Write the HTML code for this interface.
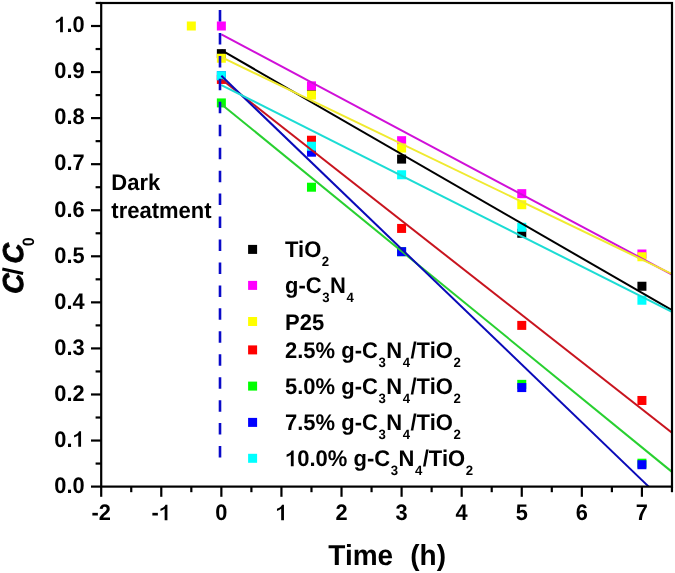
<!DOCTYPE html>
<html><head><meta charset="utf-8"><style>
html,body{margin:0;padding:0;background:#fff;}
body{width:675px;height:573px;overflow:hidden;font-family:"Liberation Sans",sans-serif;}
svg{display:block;filter:blur(0.45px);}
</style></head><body>
<svg width="675" height="573" viewBox="0 0 675 573">
<defs><clipPath id="pc"><rect x="101.2" y="3" width="570.8" height="483.6"/></clipPath></defs>
<rect x="216.86" y="49.14" width="9.0" height="9.0" fill="#000000"/>
<rect x="306.98" y="85.98" width="9.0" height="9.0" fill="#000000"/>
<rect x="397.10" y="154.61" width="9.0" height="9.0" fill="#000000"/>
<rect x="517.26" y="228.77" width="9.0" height="9.0" fill="#000000"/>
<rect x="637.42" y="281.74" width="9.0" height="9.0" fill="#000000"/>
<rect x="216.86" y="21.50" width="9.0" height="9.0" fill="#ff00ff"/>
<rect x="306.98" y="81.38" width="9.0" height="9.0" fill="#ff00ff"/>
<rect x="397.10" y="136.19" width="9.0" height="9.0" fill="#ff00ff"/>
<rect x="517.26" y="189.16" width="9.0" height="9.0" fill="#ff00ff"/>
<rect x="637.42" y="249.50" width="9.0" height="9.0" fill="#ff00ff"/>
<rect x="186.82" y="21.50" width="9.0" height="9.0" fill="#ffff00"/>
<rect x="216.86" y="53.74" width="9.0" height="9.0" fill="#ffff00"/>
<rect x="306.98" y="90.59" width="9.0" height="9.0" fill="#ffff00"/>
<rect x="397.10" y="143.56" width="9.0" height="9.0" fill="#ffff00"/>
<rect x="517.26" y="200.21" width="9.0" height="9.0" fill="#ffff00"/>
<rect x="637.42" y="252.26" width="9.0" height="9.0" fill="#ffff00"/>
<rect x="216.86" y="74.93" width="9.0" height="9.0" fill="#ff0000"/>
<rect x="306.98" y="135.73" width="9.0" height="9.0" fill="#ff0000"/>
<rect x="397.10" y="223.93" width="9.0" height="9.0" fill="#ff0000"/>
<rect x="517.26" y="320.89" width="9.0" height="9.0" fill="#ff0000"/>
<rect x="637.42" y="395.97" width="9.0" height="9.0" fill="#ff0000"/>
<rect x="216.86" y="98.42" width="9.0" height="9.0" fill="#00ff00"/>
<rect x="306.98" y="182.71" width="9.0" height="9.0" fill="#00ff00"/>
<rect x="397.10" y="247.19" width="9.0" height="9.0" fill="#00ff00"/>
<rect x="517.26" y="379.85" width="9.0" height="9.0" fill="#00ff00"/>
<rect x="637.42" y="458.70" width="9.0" height="9.0" fill="#00ff00"/>
<rect x="216.86" y="71.24" width="9.0" height="9.0" fill="#0000ff"/>
<rect x="306.98" y="147.70" width="9.0" height="9.0" fill="#0000ff"/>
<rect x="397.10" y="247.19" width="9.0" height="9.0" fill="#0000ff"/>
<rect x="517.26" y="383.07" width="9.0" height="9.0" fill="#0000ff"/>
<rect x="637.42" y="460.22" width="9.0" height="9.0" fill="#0000ff"/>
<rect x="216.86" y="71.24" width="9.0" height="9.0" fill="#00ffff"/>
<rect x="306.98" y="141.72" width="9.0" height="9.0" fill="#00ffff"/>
<rect x="397.10" y="170.27" width="9.0" height="9.0" fill="#00ffff"/>
<rect x="517.26" y="222.78" width="9.0" height="9.0" fill="#00ffff"/>
<rect x="637.42" y="295.74" width="9.0" height="9.0" fill="#00ffff"/>
<line x1="221.36" y1="50.12" x2="671.96" y2="310.19" stroke="#000000" stroke-width="2.0" clip-path="url(#pc)"/>
<line x1="221.36" y1="34.36" x2="671.96" y2="274.56" stroke="#d010d8" stroke-width="2.0" clip-path="url(#pc)"/>
<line x1="221.36" y1="57.19" x2="671.96" y2="273.97" stroke="#f0ea30" stroke-width="2.0" clip-path="url(#pc)"/>
<line x1="221.36" y1="79.24" x2="671.96" y2="432.77" stroke="#c8141e" stroke-width="2.0" clip-path="url(#pc)"/>
<line x1="221.36" y1="104.16" x2="671.96" y2="471.86" stroke="#28d030" stroke-width="2.0" clip-path="url(#pc)"/>
<line x1="221.36" y1="75.79" x2="648.70" y2="486.60" stroke="#0a0ab8" stroke-width="2.0" clip-path="url(#pc)"/>
<line x1="221.36" y1="85.03" x2="671.96" y2="311.90" stroke="#1cdcd4" stroke-width="2.0" clip-path="url(#pc)"/>
<line x1="220" y1="10" x2="220" y2="458.5" stroke="#0a0ac8" stroke-width="2.6" stroke-dasharray="11.5 11.45"/>
<rect x="101.2" y="3.0" width="570.8" height="483.6" fill="none" stroke="#000" stroke-width="2.2"/>
<line x1="91.0" y1="486.60" x2="101.2" y2="486.60" stroke="#000" stroke-width="2.2"/>
<line x1="95.60000000000001" y1="463.57" x2="101.2" y2="463.57" stroke="#000" stroke-width="2.2"/>
<line x1="91.0" y1="440.54" x2="101.2" y2="440.54" stroke="#000" stroke-width="2.2"/>
<line x1="95.60000000000001" y1="417.51" x2="101.2" y2="417.51" stroke="#000" stroke-width="2.2"/>
<line x1="91.0" y1="394.48" x2="101.2" y2="394.48" stroke="#000" stroke-width="2.2"/>
<line x1="95.60000000000001" y1="371.45" x2="101.2" y2="371.45" stroke="#000" stroke-width="2.2"/>
<line x1="91.0" y1="348.42" x2="101.2" y2="348.42" stroke="#000" stroke-width="2.2"/>
<line x1="95.60000000000001" y1="325.39" x2="101.2" y2="325.39" stroke="#000" stroke-width="2.2"/>
<line x1="91.0" y1="302.36" x2="101.2" y2="302.36" stroke="#000" stroke-width="2.2"/>
<line x1="95.60000000000001" y1="279.33" x2="101.2" y2="279.33" stroke="#000" stroke-width="2.2"/>
<line x1="91.0" y1="256.30" x2="101.2" y2="256.30" stroke="#000" stroke-width="2.2"/>
<line x1="95.60000000000001" y1="233.27" x2="101.2" y2="233.27" stroke="#000" stroke-width="2.2"/>
<line x1="91.0" y1="210.24" x2="101.2" y2="210.24" stroke="#000" stroke-width="2.2"/>
<line x1="95.60000000000001" y1="187.21" x2="101.2" y2="187.21" stroke="#000" stroke-width="2.2"/>
<line x1="91.0" y1="164.18" x2="101.2" y2="164.18" stroke="#000" stroke-width="2.2"/>
<line x1="95.60000000000001" y1="141.15" x2="101.2" y2="141.15" stroke="#000" stroke-width="2.2"/>
<line x1="91.0" y1="118.12" x2="101.2" y2="118.12" stroke="#000" stroke-width="2.2"/>
<line x1="95.60000000000001" y1="95.09" x2="101.2" y2="95.09" stroke="#000" stroke-width="2.2"/>
<line x1="91.0" y1="72.06" x2="101.2" y2="72.06" stroke="#000" stroke-width="2.2"/>
<line x1="95.60000000000001" y1="49.03" x2="101.2" y2="49.03" stroke="#000" stroke-width="2.2"/>
<line x1="91.0" y1="26.00" x2="101.2" y2="26.00" stroke="#000" stroke-width="2.2"/>
<line x1="95.60000000000001" y1="2.97" x2="101.2" y2="2.97" stroke="#000" stroke-width="2.2"/>
<line x1="101.20" y1="486.6" x2="101.20" y2="496.8" stroke="#000" stroke-width="2.2"/>
<line x1="131.24" y1="486.6" x2="131.24" y2="492.20000000000005" stroke="#000" stroke-width="2.2"/>
<line x1="161.28" y1="486.6" x2="161.28" y2="496.8" stroke="#000" stroke-width="2.2"/>
<line x1="191.32" y1="486.6" x2="191.32" y2="492.20000000000005" stroke="#000" stroke-width="2.2"/>
<line x1="221.36" y1="486.6" x2="221.36" y2="496.8" stroke="#000" stroke-width="2.2"/>
<line x1="251.40" y1="486.6" x2="251.40" y2="492.20000000000005" stroke="#000" stroke-width="2.2"/>
<line x1="281.44" y1="486.6" x2="281.44" y2="496.8" stroke="#000" stroke-width="2.2"/>
<line x1="311.48" y1="486.6" x2="311.48" y2="492.20000000000005" stroke="#000" stroke-width="2.2"/>
<line x1="341.52" y1="486.6" x2="341.52" y2="496.8" stroke="#000" stroke-width="2.2"/>
<line x1="371.56" y1="486.6" x2="371.56" y2="492.20000000000005" stroke="#000" stroke-width="2.2"/>
<line x1="401.60" y1="486.6" x2="401.60" y2="496.8" stroke="#000" stroke-width="2.2"/>
<line x1="431.64" y1="486.6" x2="431.64" y2="492.20000000000005" stroke="#000" stroke-width="2.2"/>
<line x1="461.68" y1="486.6" x2="461.68" y2="496.8" stroke="#000" stroke-width="2.2"/>
<line x1="491.72" y1="486.6" x2="491.72" y2="492.20000000000005" stroke="#000" stroke-width="2.2"/>
<line x1="521.76" y1="486.6" x2="521.76" y2="496.8" stroke="#000" stroke-width="2.2"/>
<line x1="551.80" y1="486.6" x2="551.80" y2="492.20000000000005" stroke="#000" stroke-width="2.2"/>
<line x1="581.84" y1="486.6" x2="581.84" y2="496.8" stroke="#000" stroke-width="2.2"/>
<line x1="611.88" y1="486.6" x2="611.88" y2="492.20000000000005" stroke="#000" stroke-width="2.2"/>
<line x1="641.92" y1="486.6" x2="641.92" y2="496.8" stroke="#000" stroke-width="2.2"/>
<line x1="671.96" y1="486.6" x2="671.96" y2="492.20000000000005" stroke="#000" stroke-width="2.2"/>
<g transform="translate(84.60,492.90) scale(1,1.03)"><text x="0" y="0" font-family="Liberation Sans, sans-serif" font-weight="bold" text-rendering="geometricPrecision" font-size="21.8" text-anchor="end" >0.0</text></g>
<g transform="translate(84.60,446.84) scale(1,1.03)"><text x="0" y="0" font-family="Liberation Sans, sans-serif" font-weight="bold" text-rendering="geometricPrecision" font-size="21.8" text-anchor="end" >0. </text></g>
<path d="M 545 0 L 806 0 L 806 1466 L 620 1466 C 575 1350 480 1250 360 1185 C 300 1150 230 1120 150 1095 L 150 870 C 300 915 440 995 545 1085 Z" fill="#000" transform="translate(72.48,446.84) scale(0.01064,-0.01064)"/>
<g transform="translate(84.60,400.78) scale(1,1.03)"><text x="0" y="0" font-family="Liberation Sans, sans-serif" font-weight="bold" text-rendering="geometricPrecision" font-size="21.8" text-anchor="end" >0.2</text></g>
<g transform="translate(84.60,354.72) scale(1,1.03)"><text x="0" y="0" font-family="Liberation Sans, sans-serif" font-weight="bold" text-rendering="geometricPrecision" font-size="21.8" text-anchor="end" >0.3</text></g>
<g transform="translate(84.60,308.66) scale(1,1.03)"><text x="0" y="0" font-family="Liberation Sans, sans-serif" font-weight="bold" text-rendering="geometricPrecision" font-size="21.8" text-anchor="end" >0.4</text></g>
<g transform="translate(84.60,262.60) scale(1,1.03)"><text x="0" y="0" font-family="Liberation Sans, sans-serif" font-weight="bold" text-rendering="geometricPrecision" font-size="21.8" text-anchor="end" >0.5</text></g>
<g transform="translate(84.60,216.54) scale(1,1.03)"><text x="0" y="0" font-family="Liberation Sans, sans-serif" font-weight="bold" text-rendering="geometricPrecision" font-size="21.8" text-anchor="end" >0.6</text></g>
<g transform="translate(84.60,170.48) scale(1,1.03)"><text x="0" y="0" font-family="Liberation Sans, sans-serif" font-weight="bold" text-rendering="geometricPrecision" font-size="21.8" text-anchor="end" >0.7</text></g>
<g transform="translate(84.60,124.42) scale(1,1.03)"><text x="0" y="0" font-family="Liberation Sans, sans-serif" font-weight="bold" text-rendering="geometricPrecision" font-size="21.8" text-anchor="end" >0.8</text></g>
<g transform="translate(84.60,78.36) scale(1,1.03)"><text x="0" y="0" font-family="Liberation Sans, sans-serif" font-weight="bold" text-rendering="geometricPrecision" font-size="21.8" text-anchor="end" >0.9</text></g>
<g transform="translate(84.60,32.30) scale(1,1.03)"><text x="0" y="0" font-family="Liberation Sans, sans-serif" font-weight="bold" text-rendering="geometricPrecision" font-size="21.8" text-anchor="end" > .0</text></g>
<path d="M 545 0 L 806 0 L 806 1466 L 620 1466 C 575 1350 480 1250 360 1185 C 300 1150 230 1120 150 1095 L 150 870 C 300 915 440 995 545 1085 Z" fill="#000" transform="translate(54.30,32.30) scale(0.01064,-0.01064)"/>
<g transform="translate(101.20,520.30) scale(1,1.03)"><text x="0" y="0" font-family="Liberation Sans, sans-serif" font-weight="bold" text-rendering="geometricPrecision" font-size="21.8" text-anchor="middle" >-2</text></g>
<g transform="translate(161.28,520.30) scale(1,1.03)"><text x="0" y="0" font-family="Liberation Sans, sans-serif" font-weight="bold" text-rendering="geometricPrecision" font-size="21.8" text-anchor="middle" >- </text></g>
<path d="M 545 0 L 806 0 L 806 1466 L 620 1466 C 575 1350 480 1250 360 1185 C 300 1150 230 1120 150 1095 L 150 870 C 300 915 440 995 545 1085 Z" fill="#000" transform="translate(158.85,520.30) scale(0.01064,-0.01064)"/>
<g transform="translate(221.36,520.30) scale(1,1.03)"><text x="0" y="0" font-family="Liberation Sans, sans-serif" font-weight="bold" text-rendering="geometricPrecision" font-size="21.8" text-anchor="middle" >0</text></g>
<g transform="translate(281.44,520.30) scale(1,1.03)"><text x="0" y="0" font-family="Liberation Sans, sans-serif" font-weight="bold" text-rendering="geometricPrecision" font-size="21.8" text-anchor="middle" > </text></g>
<path d="M 545 0 L 806 0 L 806 1466 L 620 1466 C 575 1350 480 1250 360 1185 C 300 1150 230 1120 150 1095 L 150 870 C 300 915 440 995 545 1085 Z" fill="#000" transform="translate(275.38,520.30) scale(0.01064,-0.01064)"/>
<g transform="translate(341.52,520.30) scale(1,1.03)"><text x="0" y="0" font-family="Liberation Sans, sans-serif" font-weight="bold" text-rendering="geometricPrecision" font-size="21.8" text-anchor="middle" >2</text></g>
<g transform="translate(401.60,520.30) scale(1,1.03)"><text x="0" y="0" font-family="Liberation Sans, sans-serif" font-weight="bold" text-rendering="geometricPrecision" font-size="21.8" text-anchor="middle" >3</text></g>
<g transform="translate(461.68,520.30) scale(1,1.03)"><text x="0" y="0" font-family="Liberation Sans, sans-serif" font-weight="bold" text-rendering="geometricPrecision" font-size="21.8" text-anchor="middle" >4</text></g>
<g transform="translate(521.76,520.30) scale(1,1.03)"><text x="0" y="0" font-family="Liberation Sans, sans-serif" font-weight="bold" text-rendering="geometricPrecision" font-size="21.8" text-anchor="middle" >5</text></g>
<g transform="translate(581.84,520.30) scale(1,1.03)"><text x="0" y="0" font-family="Liberation Sans, sans-serif" font-weight="bold" text-rendering="geometricPrecision" font-size="21.8" text-anchor="middle" >6</text></g>
<g transform="translate(641.92,520.30) scale(1,1.03)"><text x="0" y="0" font-family="Liberation Sans, sans-serif" font-weight="bold" text-rendering="geometricPrecision" font-size="21.8" text-anchor="middle" >7</text></g>
<g transform="translate(328.30,565.20) scale(1,1.03)"><text x="0" y="0" font-family="Liberation Sans, sans-serif" font-weight="bold" text-rendering="geometricPrecision" font-size="28" text-anchor="start" >Time</text></g>
<g transform="translate(410.20,565.20) scale(1,1.03)"><text x="0" y="0" font-family="Liberation Sans, sans-serif" font-weight="bold" text-rendering="geometricPrecision" font-size="28" text-anchor="start" >(h)</text></g>
<g transform="translate(22.8,0) rotate(-90) scale(1,1.03)" font-family="Liberation Sans, sans-serif" font-weight="bold" text-rendering="geometricPrecision"><g transform="translate(-294.2,0) skewX(-3)"><text x="0" y="0" font-size="28" font-style="italic" stroke="#000" stroke-width="0.8">C</text></g><g transform="translate(-263.9,0) skewX(-3)"><text x="0" y="0" font-size="28" font-style="italic" stroke="#000" stroke-width="0.8">C</text></g><text x="-246.2" y="10.68" font-size="16">0</text></g>
<line x1="2.3" y1="269.0" x2="23.1" y2="273.5" stroke="#000" stroke-width="2.9"/>
<g transform="translate(111.30,190.10) scale(1,1.03)"><text x="0" y="0" font-family="Liberation Sans, sans-serif" font-weight="bold" text-rendering="geometricPrecision" font-size="22.0" text-anchor="start" >Dark</text></g>
<g transform="translate(111.30,218.00) scale(1,1.03)"><text x="0" y="0" font-family="Liberation Sans, sans-serif" font-weight="bold" text-rendering="geometricPrecision" font-size="22.0" text-anchor="start" >treatment</text></g>
<rect x="248.10" y="244.90" width="9.0" height="9.0" fill="#000000"/>
<g transform="translate(285.00,257.40) scale(1,1.03)"><text x="0" y="0" font-family="Liberation Sans, sans-serif" font-weight="bold" text-rendering="geometricPrecision" font-size="22.0" text-anchor="start" >TiO<tspan font-size="13.2" dy="8.64" dx="0.6">2</tspan></text></g>
<rect x="248.10" y="280.90" width="9.0" height="9.0" fill="#ff00ff"/>
<g transform="translate(285.00,293.40) scale(1,1.03)"><text x="0" y="0" font-family="Liberation Sans, sans-serif" font-weight="bold" text-rendering="geometricPrecision" font-size="22.0" text-anchor="start" >g-C<tspan font-size="13.2" dy="8.64" dx="0.6">3</tspan><tspan dy="-8.64" dx="0.4">N</tspan><tspan font-size="13.2" dy="8.64" dx="0.6">4</tspan></text></g>
<rect x="248.10" y="317.00" width="9.0" height="9.0" fill="#ffff00"/>
<g transform="translate(285.00,329.50) scale(1,1.03)"><text x="0" y="0" font-family="Liberation Sans, sans-serif" font-weight="bold" text-rendering="geometricPrecision" font-size="22.0" text-anchor="start" >P25</text></g>
<rect x="248.10" y="345.40" width="9.0" height="9.0" fill="#ff0000"/>
<g transform="translate(285.00,357.90) scale(1,1.03)"><text x="0" y="0" font-family="Liberation Sans, sans-serif" font-weight="bold" text-rendering="geometricPrecision" font-size="22.0" text-anchor="start" >2.5% g-C<tspan font-size="13.2" dy="8.64" dx="0.6">3</tspan><tspan dy="-8.64" dx="0.4">N</tspan><tspan font-size="13.2" dy="8.64" dx="0.6">4</tspan><tspan dy="-8.64" dx="0.4">/TiO</tspan><tspan font-size="13.2" dy="8.64" dx="0.6">2</tspan></text></g>
<rect x="248.10" y="381.60" width="9.0" height="9.0" fill="#00ff00"/>
<g transform="translate(285.00,394.10) scale(1,1.03)"><text x="0" y="0" font-family="Liberation Sans, sans-serif" font-weight="bold" text-rendering="geometricPrecision" font-size="22.0" text-anchor="start" >5.0% g-C<tspan font-size="13.2" dy="8.64" dx="0.6">3</tspan><tspan dy="-8.64" dx="0.4">N</tspan><tspan font-size="13.2" dy="8.64" dx="0.6">4</tspan><tspan dy="-8.64" dx="0.4">/TiO</tspan><tspan font-size="13.2" dy="8.64" dx="0.6">2</tspan></text></g>
<rect x="248.10" y="417.90" width="9.0" height="9.0" fill="#0000ff"/>
<g transform="translate(285.00,430.40) scale(1,1.03)"><text x="0" y="0" font-family="Liberation Sans, sans-serif" font-weight="bold" text-rendering="geometricPrecision" font-size="22.0" text-anchor="start" >7.5% g-C<tspan font-size="13.2" dy="8.64" dx="0.6">3</tspan><tspan dy="-8.64" dx="0.4">N</tspan><tspan font-size="13.2" dy="8.64" dx="0.6">4</tspan><tspan dy="-8.64" dx="0.4">/TiO</tspan><tspan font-size="13.2" dy="8.64" dx="0.6">2</tspan></text></g>
<rect x="248.10" y="453.80" width="9.0" height="9.0" fill="#00ffff"/>
<g transform="translate(285.00,466.30) scale(1,1.03)"><text x="0" y="0" font-family="Liberation Sans, sans-serif" font-weight="bold" text-rendering="geometricPrecision" font-size="22.0" text-anchor="start" > 0.0% g-C<tspan font-size="13.2" dy="8.64" dx="0.6">3</tspan><tspan dy="-8.64" dx="0.4">N</tspan><tspan font-size="13.2" dy="8.64" dx="0.6">4</tspan><tspan dy="-8.64" dx="0.4">/TiO</tspan><tspan font-size="13.2" dy="8.64" dx="0.6">2</tspan></text></g>
<path d="M 545 0 L 806 0 L 806 1466 L 620 1466 C 575 1350 480 1250 360 1185 C 300 1150 230 1120 150 1095 L 150 870 C 300 915 440 995 545 1085 Z" fill="#000" transform="translate(285.00,466.30) scale(0.01074,-0.01074)"/>
</svg>
</body></html>
